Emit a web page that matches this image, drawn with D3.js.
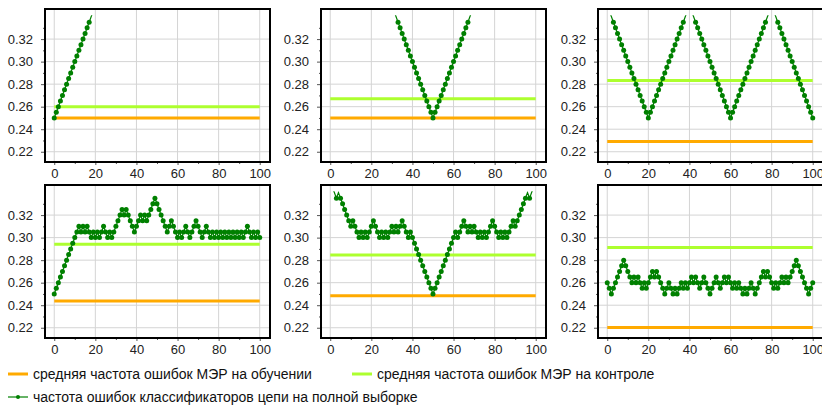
<!DOCTYPE html>
<html>
<head>
<meta charset="utf-8">
<script src="https://cdn.jsdelivr.net/npm/d3@7"></script>
<style>
  body { margin: 0; background: #fff; }
  svg { display: block; font-family: "Liberation Sans", Arial, sans-serif; }
</style>
</head>
<body>
<div id="chart"></div>
<script>
// ticks
const xTicks = [0, 20, 40, 60, 80, 100];
const xMinor = [10, 30, 50, 70, 90];
const yTicks = [0.22, 0.24, 0.26, 0.28, 0.30, 0.32];
const yMinor = [0.23, 0.25, 0.27, 0.29, 0.31, 0.33];

// mean error of ERM (train / control), one per panel
const trainMean = [0.25, 0.25, 0.229, 0.2437, 0.2484, 0.2203];
const testMean = [0.26, 0.267, 0.2833, 0.294, 0.2845, 0.2913];

// chain error rates, first x of each series
const chainStart = [0, 30, 0, 0, 0, 0];
const chain1 = [0.25, 0.255, 0.26, 0.265, 0.27, 0.275, 0.28, 0.285, 0.29, 0.295,
  0.30, 0.305, 0.31, 0.315, 0.32, 0.325, 0.33, 0.335, 0.34, 0.345, 0.35];
const chain2 = [0.35, 0.345, 0.34, 0.335, 0.33, 0.325, 0.32, 0.315, 0.31, 0.305,
  0.30, 0.295, 0.29, 0.285, 0.28, 0.275, 0.27, 0.265, 0.26, 0.255, 0.25,
  0.255, 0.26, 0.265, 0.27, 0.275, 0.28, 0.285, 0.29, 0.295, 0.30,
  0.305, 0.31, 0.315, 0.32, 0.325, 0.33, 0.335, 0.34, 0.345, 0.35];
const chain3 = [0.35, 0.345, 0.34, 0.335, 0.33, 0.325, 0.32, 0.315, 0.31, 0.305,
  0.30, 0.295, 0.29, 0.285, 0.28, 0.275, 0.27, 0.265, 0.26, 0.255, 0.25,
  0.255, 0.26, 0.265, 0.27, 0.275, 0.28, 0.285, 0.29, 0.295, 0.30,
  0.305, 0.31, 0.315, 0.32, 0.325, 0.33, 0.335, 0.34, 0.345, 0.35,
  0.345, 0.34, 0.335, 0.33, 0.325, 0.32, 0.315, 0.31, 0.305, 0.30,
  0.295, 0.29, 0.285, 0.28, 0.275, 0.27, 0.265, 0.26, 0.255, 0.25,
  0.255, 0.26, 0.265, 0.27, 0.275, 0.28, 0.285, 0.29, 0.295, 0.30,
  0.305, 0.31, 0.315, 0.32, 0.325, 0.33, 0.335, 0.34, 0.345, 0.35,
  0.345, 0.34, 0.335, 0.33, 0.325, 0.32, 0.315, 0.31, 0.305, 0.30,
  0.295, 0.29, 0.285, 0.28, 0.275, 0.27, 0.265, 0.26, 0.255, 0.25];
const chain4 = [0.25, 0.255, 0.26, 0.265, 0.27, 0.275, 0.28, 0.285, 0.29, 0.295,
  0.30, 0.305, 0.31, 0.305, 0.31, 0.305, 0.31, 0.305, 0.30, 0.305,
  0.30, 0.305, 0.30, 0.305, 0.31, 0.305, 0.30, 0.305, 0.30, 0.305,
  0.31, 0.315, 0.32, 0.325, 0.32, 0.325, 0.32, 0.315, 0.31, 0.305,
  0.31, 0.315, 0.32, 0.315, 0.32, 0.315, 0.32, 0.325, 0.33, 0.335,
  0.33, 0.325, 0.32, 0.315, 0.31, 0.305, 0.31, 0.315, 0.31, 0.305,
  0.30, 0.305, 0.30, 0.305, 0.31, 0.305, 0.30, 0.305, 0.31, 0.315,
  0.31, 0.305, 0.30, 0.305, 0.31, 0.305, 0.30, 0.305, 0.30, 0.305,
  0.30, 0.305, 0.30, 0.305, 0.30, 0.305, 0.30, 0.305, 0.30, 0.305,
  0.30, 0.305, 0.30, 0.305, 0.31, 0.305, 0.30, 0.305, 0.30, 0.305,
  0.30];
const chain5 = [0.35, 0.345, 0.34, 0.335, 0.34, 0.335, 0.33, 0.325, 0.32, 0.315,
  0.31, 0.315, 0.31, 0.305, 0.30, 0.305, 0.30, 0.305, 0.30, 0.305,
  0.31, 0.315, 0.31, 0.305, 0.30, 0.305, 0.30, 0.305, 0.30, 0.305,
  0.31, 0.305, 0.31, 0.305, 0.31, 0.315, 0.31, 0.305, 0.30, 0.305,
  0.30, 0.295, 0.29, 0.285, 0.28, 0.275, 0.27, 0.265, 0.26, 0.255,
  0.25, 0.255, 0.26, 0.265, 0.27, 0.275, 0.28, 0.285, 0.29, 0.295,
  0.30, 0.305, 0.30, 0.305, 0.31, 0.315, 0.31, 0.305, 0.31, 0.305,
  0.31, 0.305, 0.30, 0.305, 0.30, 0.305, 0.30, 0.305, 0.31, 0.315,
  0.31, 0.305, 0.30, 0.305, 0.30, 0.305, 0.30, 0.305, 0.31, 0.315,
  0.31, 0.315, 0.32, 0.325, 0.33, 0.335, 0.34, 0.335, 0.34, 0.345,
  0.35];
const chain6 = [0.26, 0.255, 0.25, 0.255, 0.26, 0.265, 0.27, 0.275, 0.28, 0.275,
  0.27, 0.265, 0.26, 0.265, 0.26, 0.265, 0.26, 0.255, 0.26, 0.255,
  0.26, 0.265, 0.27, 0.265, 0.27, 0.265, 0.26, 0.255, 0.25, 0.255,
  0.26, 0.255, 0.25, 0.255, 0.25, 0.255, 0.26, 0.255, 0.26, 0.255,
  0.26, 0.265, 0.26, 0.265, 0.26, 0.255, 0.26, 0.265, 0.26, 0.255,
  0.25, 0.255, 0.26, 0.265, 0.26, 0.255, 0.26, 0.265, 0.26, 0.265,
  0.26, 0.255, 0.26, 0.255, 0.26, 0.255, 0.25, 0.255, 0.25, 0.255,
  0.26, 0.255, 0.25, 0.255, 0.26, 0.265, 0.27, 0.265, 0.27, 0.265,
  0.26, 0.255, 0.26, 0.255, 0.26, 0.265, 0.26, 0.265, 0.26, 0.265,
  0.27, 0.275, 0.28, 0.275, 0.27, 0.265, 0.26, 0.255, 0.25, 0.255,
  0.26];
const chains = [chain1, chain2, chain3, chain4, chain5, chain6];

const legendLabels = [
  'средняя частота ошибок МЭР на обучении',
  'средняя частота ошибок МЭР на контроле',
  'частота ошибок классификаторов цепи на полной выборке'
];

let width = 822,
    height = 405,
    pw = 225,
    ph = 153;
const panelLeft = [45, 321, 598],
      panelTop = [9, 185];

const orange = '#ffaa00', lime = '#adff2f', dark = '#008000';

const svg = d3.select('#chart')
  .append('svg')
    .attr('width', width)
    .attr('height', height);

chains.forEach(function(series, p) {
  const col = p % 3, row = Math.floor(p / 3);
  const g = svg.append('g')
    .attr('transform', 'translate(' + panelLeft[col] + ',' + panelTop[row] + ')');

  const x = d3.scaleLinear().domain([-4.5, 105]).range([0, pw]);
  const y = d3.scaleLinear().domain([0.2109, 0.3467]).range([ph, 0]);

  // grid
  g.selectAll('line.vg').data(xTicks).enter().append('line')
    .attr('x1', d => x(d)).attr('x2', d => x(d))
    .attr('y1', 0).attr('y2', ph)
    .style('stroke', '#d4d4d4').style('stroke-width', 1);
  g.selectAll('line.hg').data(yTicks).enter().append('line')
    .attr('x1', 0).attr('x2', pw)
    .attr('y1', d => y(d)).attr('y2', d => y(d))
    .style('stroke', '#d4d4d4').style('stroke-width', 1);

  // axes
  const ax = g.append('g').attr('transform', 'translate(0,' + ph + ')')
    .call(d3.axisBottom(x).tickValues(xTicks).tickSize(3).tickPadding(4));
  const axm = g.append('g').attr('transform', 'translate(0,' + ph + ')')
    .call(d3.axisBottom(x).tickValues(xMinor).tickSize(2).tickFormat(''));
  const ay = g.append('g')
    .call(d3.axisLeft(y).tickValues(yTicks).tickSize(4).tickPadding(8).tickFormat(d3.format('.2f')));
  const aym = g.append('g')
    .call(d3.axisLeft(y).tickValues(yMinor).tickSize(2).tickFormat(''));
  [ax, axm, ay, aym].forEach(function(a) {
    a.select('.domain').remove();
    a.selectAll('line').style('stroke', '#555');
    a.selectAll('text').style('font-size', '13px').style('fill', '#222')
      .style('font-family', '"Liberation Sans", Arial, sans-serif');
  });

  // clip to plot range
  const clipId = 'clip' + p;
  g.append('clipPath').attr('id', clipId)
    .append('rect').attr('x', 0).attr('y', y(0.3412)).attr('width', pw).attr('height', ph - y(0.3412));
  const body = g.append('g').attr('clip-path', 'url(#' + clipId + ')');

  // means
  body.append('line')
    .attr('x1', x(0)).attr('x2', x(100))
    .attr('y1', y(trainMean[p])).attr('y2', y(trainMean[p]))
    .style('stroke', orange).style('stroke-width', 3);
  body.append('line')
    .attr('x1', x(0)).attr('x2', x(100))
    .attr('y1', y(testMean[p])).attr('y2', y(testMean[p]))
    .style('stroke', lime).style('stroke-width', 3);

  // chain
  const pts = series.map((v, i) => ({ k: chainStart[p] + i, v: v }));
  body.append('path')
    .datum(pts)
    .attr('d', d3.line().x(d => x(d.k)).y(d => y(d.v)))
    .style('fill', 'none').style('stroke', dark).style('stroke-width', 1.2);
  body.selectAll('circle').data(pts.filter(d => d.v < 0.3375))
    .enter().append('circle')
      .attr('cx', d => x(d.k))
      .attr('cy', d => y(d.v))
      .attr('r', 2.5)
      .style('fill', dark);

  // frame
  g.append('rect')
    .attr('x', 0).attr('y', 0).attr('width', pw).attr('height', ph)
    .style('fill', 'none').style('stroke', '#000').style('stroke-width', 2);
});

// legend
const legendItems = [
  { x: 8, y: 374, color: orange, w: 3, dot: false, label: legendLabels[0] },
  { x: 352, y: 374, color: lime, w: 3, dot: false, label: legendLabels[1] },
  { x: 8, y: 397, color: dark, w: 1.2, dot: true, label: legendLabels[2] }
];
const lg = svg.append('g').selectAll('g').data(legendItems).enter().append('g')
  .attr('transform', d => 'translate(' + d.x + ',' + d.y + ')');
lg.append('line')
  .attr('x1', 0).attr('x2', 20).attr('y1', 0).attr('y2', 0)
  .style('stroke', d => d.color).style('stroke-width', d => d.w);
lg.filter(d => d.dot).append('circle')
  .attr('cx', 10).attr('cy', 0).attr('r', 2).style('fill', dark);
lg.append('text')
  .attr('x', 25).attr('y', 5)
  .style('font-size', '14px').style('fill', '#111')
  .text(d => d.label);
</script>
</body>
</html>
